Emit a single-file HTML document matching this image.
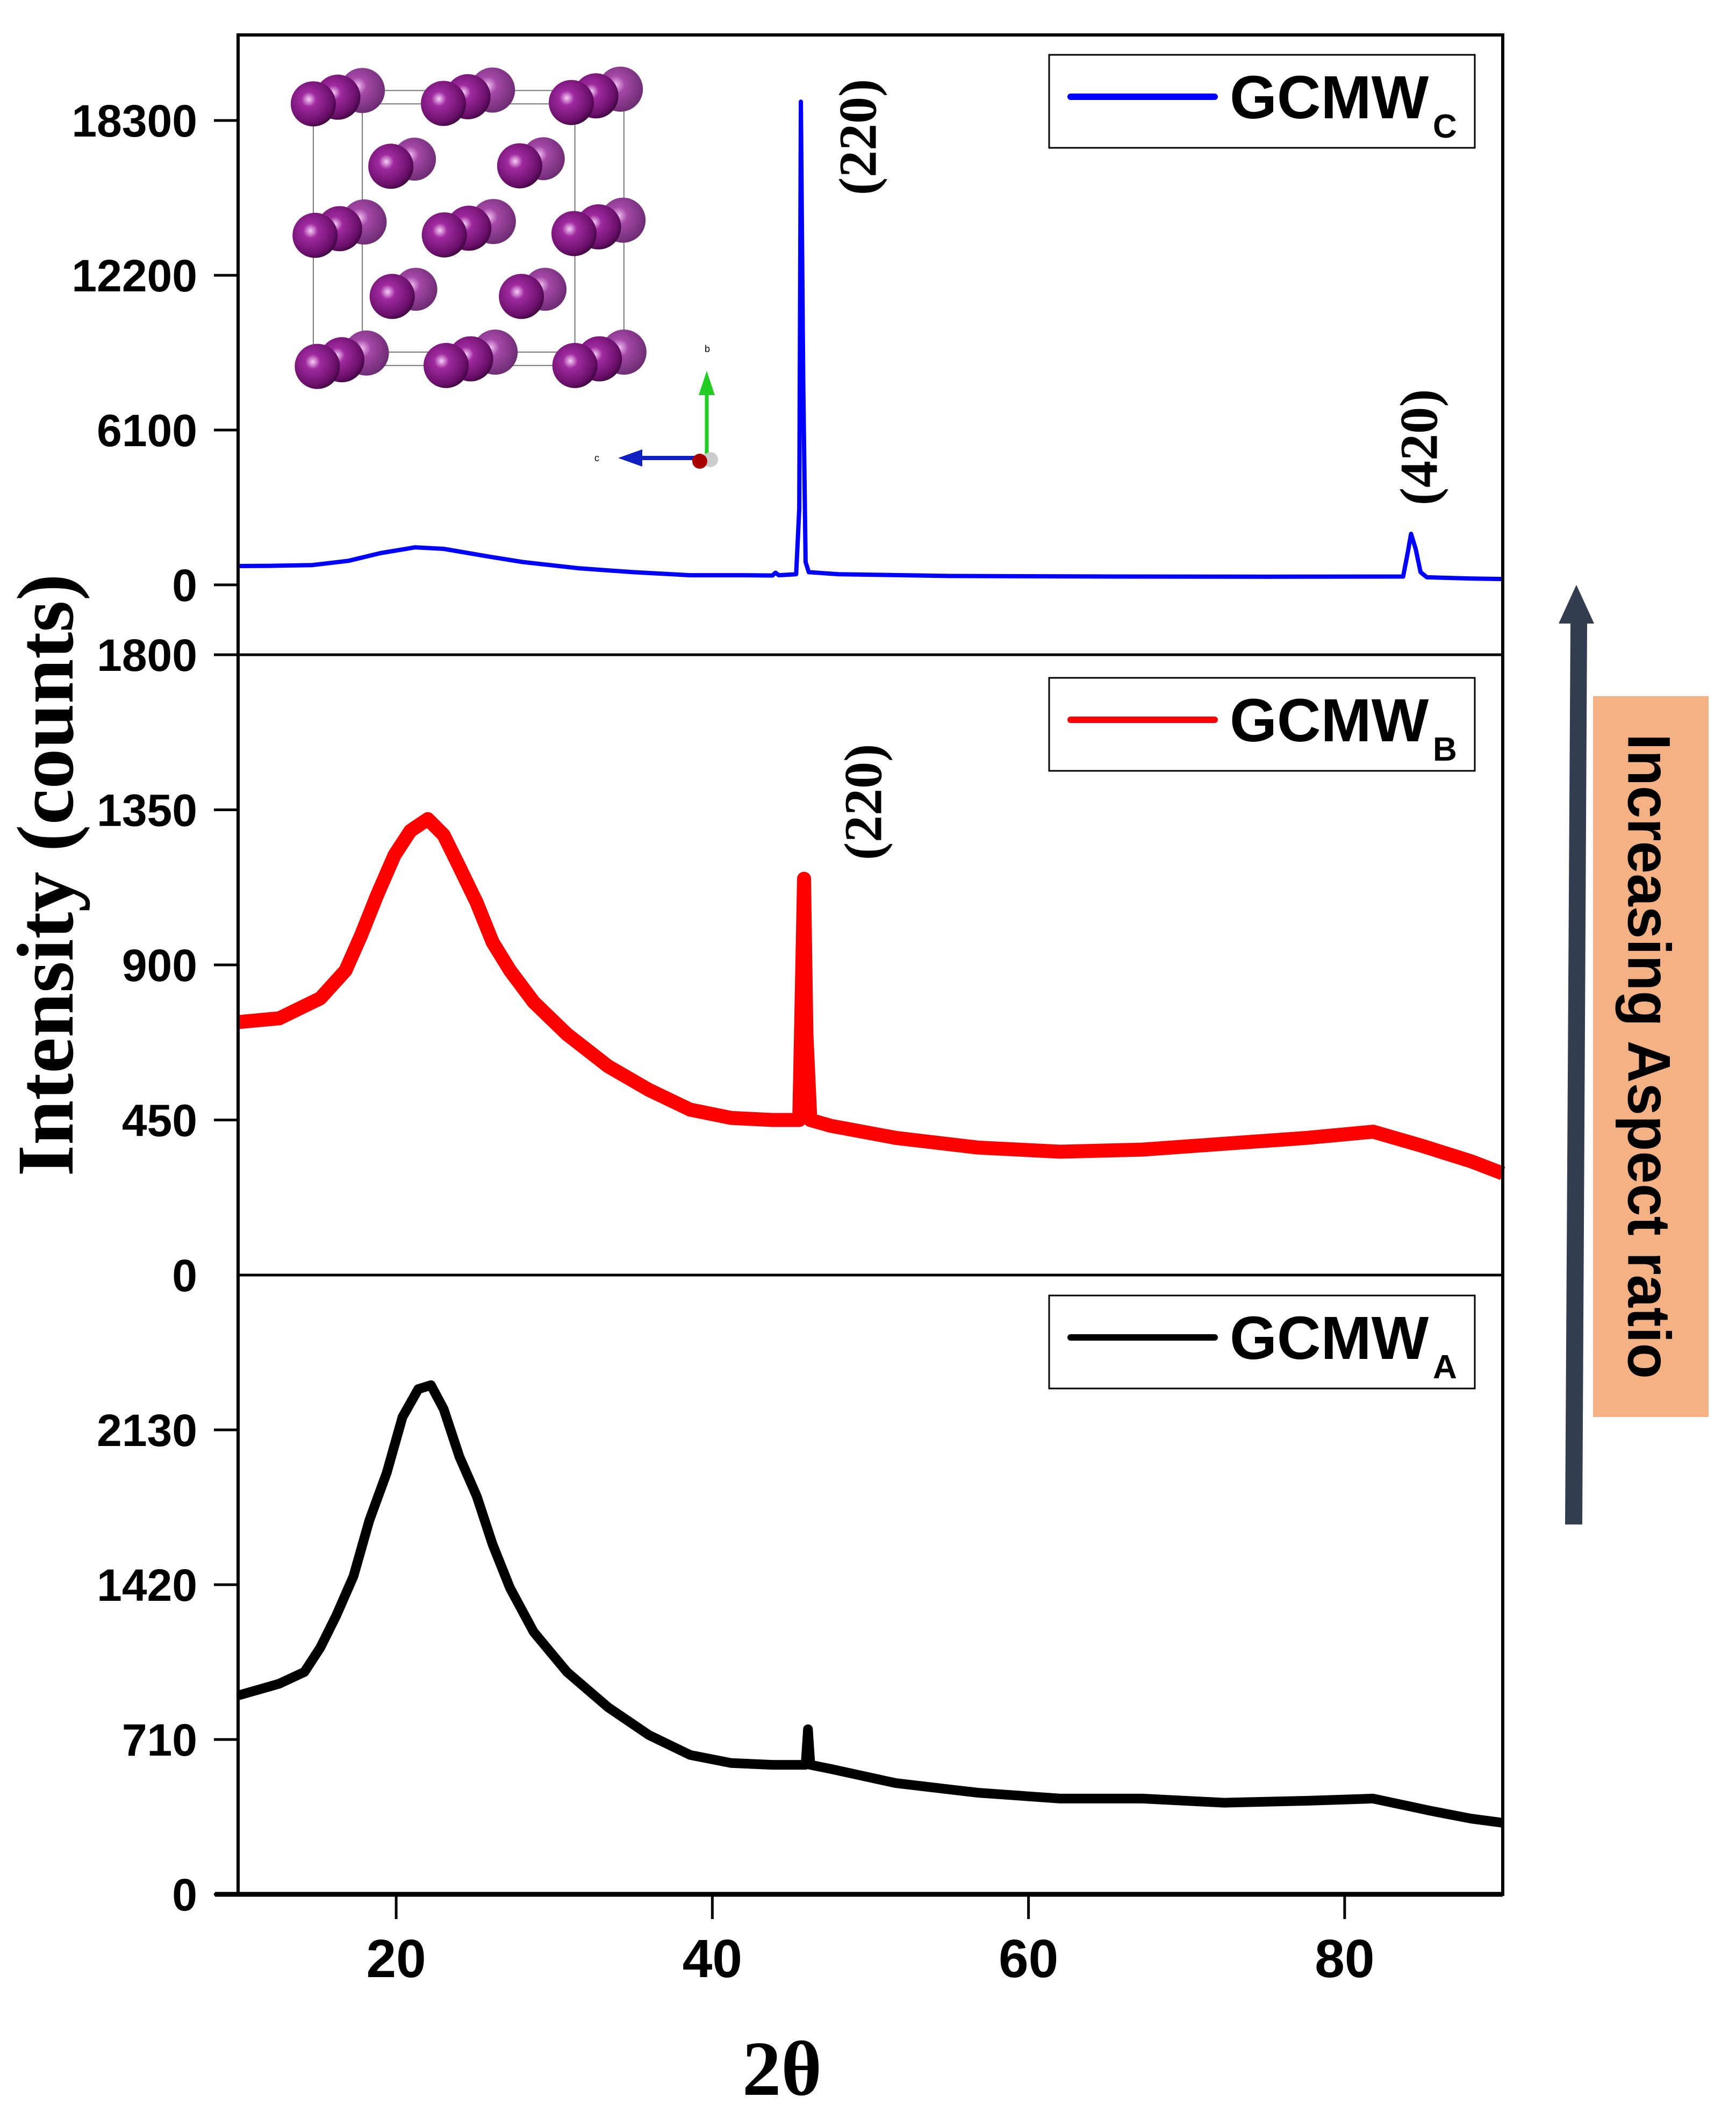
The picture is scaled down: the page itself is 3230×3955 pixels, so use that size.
<!DOCTYPE html>
<html><head><meta charset="utf-8"><style>
html,body{margin:0;padding:0;background:#fff;}
svg{display:block;}
</style></head><body>
<svg id="chart" width="3230" height="3955" viewBox="0 0 3230 3955" xmlns="http://www.w3.org/2000/svg">
<defs>
<radialGradient id="sph" cx="0.4" cy="0.4" r="0.65">
<stop offset="0" stop-color="#f6d0f6"/><stop offset="0.25" stop-color="#a02aa0"/><stop offset="0.8" stop-color="#6a0f6a"/><stop offset="1" stop-color="#3a053a"/>
</radialGradient>
<radialGradient id="sphB" cx="0.4" cy="0.4" r="0.65">
<stop offset="0" stop-color="#f0c0f0"/><stop offset="0.3" stop-color="#a548a8"/><stop offset="1" stop-color="#6a2a70"/>
</radialGradient>
</defs>
<g id="inset"></g>
<g id="plot"></g>
</svg>
<script>
// ---- data ----
const xTicks = [20, 40, 60, 80];
const topTicks = [0, 6100, 12200, 18300];
const midTicks = [450, 900, 1350, 1800];
const botTicks = [0, 710, 1420, 2130];

const xC = [10, 12, 14.7, 17, 19, 21.2, 23, 26, 28, 31.6, 35, 38.6, 42, 43.8, 44, 44.2, 45.3, 45.5, 45.6, 45.75, 45.9, 46.1, 48, 55, 65, 75, 83.7, 84.0, 84.2, 84.5, 84.8, 85.2, 88, 90];
const yC = [741, 750, 780, 950, 1250, 1480, 1420, 1100, 900, 650, 500, 380, 380, 370, 480, 380, 420, 3000, 19040, 8000, 900, 500, 420, 350, 330, 320, 330, 1300, 2010, 1400, 500, 300, 250, 230];

const xB = [10, 12.6, 15.2, 16.8, 17.8, 18.8, 19.9, 20.9, 22.0, 23.0, 24.0, 25.1, 26.1, 27.2, 28.7, 30.8, 33.4, 36, 38.6, 41.2, 43.8, 45.5, 45.8, 45.95, 46.2, 47.5, 51.6, 56.8, 62, 67.2, 72.4, 77.6, 81.8, 84.9, 88, 90];
const yB = [734, 745, 803, 884, 988, 1103, 1219, 1289, 1323, 1277, 1184, 1080, 966, 884, 792, 699, 606, 537, 480, 456, 450, 450, 1150, 700, 450, 433, 398, 370, 358, 364, 381, 398, 416, 375, 330, 295];

const xA = [10, 12.6, 14.2, 15.2, 16.2, 17.3, 18.3, 19.4, 20.4, 21.4, 22.2, 23.0, 24.0, 25.1, 26.1, 27.2, 28.7, 30.8, 33.4, 36, 38.6, 41.2, 43.8, 45.9, 46.05, 46.2, 47.5, 51.6, 56.8, 62, 67.2, 72.4, 77.6, 81.8, 85.5, 88, 90];
const yA = [912, 966, 1020, 1131, 1277, 1459, 1714, 1933, 2189, 2317, 2335, 2226, 2007, 1825, 1605, 1405, 1203, 1020, 858, 730, 639, 602, 594, 594, 757, 594, 575, 510, 466, 439, 439, 420, 429, 439, 382, 347, 328];

// ---- layout ----
const L = 443, R = 2796;
const panels = [
  {top: 65, bot: 1218, min: -2753, max: 21670, ticks: topTicks},
  {top: 1218, bot: 2372, min: 0, max: 1800, ticks: midTicks},
  {top: 2372, bot: 3524, min: 0, max: 2840, ticks: botTicks}
];
const NS = "http://www.w3.org/2000/svg";
const plot = document.getElementById('plot');
function mk(tag, attrs, parent) {
  const e = document.createElementNS(NS, tag);
  for (const k in attrs) e.setAttribute(k, attrs[k]);
  (parent || plot).appendChild(e);
  return e;
}
const xs = v => L + (v - 10) / 80 * (R - L);
function ys(p, v) { return p.bot - (v - p.min) / (p.max - p.min) * (p.bot - p.top); }

function drawSeries(p, X, Y, color, w, name) {
  let d = '';
  for (let i = 0; i < X.length; i++) d += (i ? 'L' : 'M') + xs(X[i]).toFixed(1) + ',' + ys(p, Y[i]).toFixed(1);
  const e = mk('path', {d: d, fill: 'none', stroke: color, 'stroke-width': w, 'stroke-linejoin': 'round'});
  
  
}
drawSeries(panels[0], xC, yC, '#0000ff', 8, 'series-gcmw-c');
drawSeries(panels[1], xB, yB, '#ff0000', 26, 'series-gcmw-b');
drawSeries(panels[2], xA, yA, '#000000', 18, 'series-gcmw-a');

// frame
const frame = mk('rect', {x: L, y: 65, width: R - L, height: 3524 - 65, fill: 'none', stroke: '#000', 'stroke-width': 6});


[1218, 2372].forEach(y => {
  const ln = mk('line', {x1: L, x2: R, y1: y, y2: y, stroke: '#000', 'stroke-width': 5});
  
  
});
const bax = mk('line', {x1: 400, x2: R, y1: 3524, y2: 3524, stroke: '#000', 'stroke-width': 9});



// y ticks
panels.forEach(p => {
  p.ticks.forEach(t => {
    const y = ys(p, t);
    const tk = mk('line', {x1: 398, x2: L, y1: y, y2: y, stroke: '#000', 'stroke-width': 5});
    
    
    const tx = mk('text', {x: 367, y: y + 30, 'text-anchor': 'end', 'font-family': 'Liberation Sans, Arial, sans-serif', 'font-weight': 'bold', 'font-size': 84});
    tx.textContent = t;
    
    
  });
});
const z = mk('text', {x: 367, y: 2372 + 30, 'text-anchor': 'end', 'font-family': 'Liberation Sans, Arial, sans-serif', 'font-weight': 'bold', 'font-size': 84});
z.textContent = '0';



// x ticks
xTicks.forEach(t => {
  const x = xs(t);
  const tk = mk('line', {x1: x, x2: x, y1: 3524, y2: 3570, stroke: '#000', 'stroke-width': 5});
  
  
  const tx = mk('text', {x: x, y: 3678, 'text-anchor': 'middle', 'font-family': 'Liberation Sans, Arial, sans-serif', 'font-weight': 'bold', 'font-size': 100});
  tx.textContent = t;
  
  
});

// axis titles
const xt = mk('text', {x: 1455, y: 3897, 'text-anchor': 'middle', 'font-family': 'Liberation Serif, Times New Roman, serif', 'font-weight': 'bold', 'font-size': 145});
xt.textContent = '2θ';


const yt = mk('text', {x: 0, y: 0, 'text-anchor': 'middle', transform: 'translate(135,1628) rotate(-90)', 'font-family': 'Liberation Serif, Times New Roman, serif', 'font-weight': 'bold', 'font-size': 150});
yt.textContent = 'Intensity (counts)';



// peak labels
function peakLabel(cx, cy, txt) {
  const t = mk('text', {x: 0, y: 0, 'text-anchor': 'middle', 'dominant-baseline': 'central', transform: 'translate(' + cx + ',' + cy + ') rotate(-90)', 'font-family': 'Liberation Serif, Times New Roman, serif', 'font-weight': 'bold', 'font-size': 100});
  t.textContent = txt;
  
  
}
peakLabel(1596, 255, '(220)');
peakLabel(2640, 832, '(420)');
peakLabel(1606, 1492, '(220)');

// legends
function legend(y0, color, sub, name) {
  const g = mk('g', {});
  
  
  mk('rect', {x: 1952, y: y0, width: 792, height: 173, fill: '#fff', stroke: '#000', 'stroke-width': 3}, g);
  mk('line', {x1: 1992, x2: 2260, y1: y0 + 78, y2: y0 + 78, stroke: color, 'stroke-width': 12, 'stroke-linecap': 'round'}, g);
  const t = mk('text', {x: 2288, y: y0 + 118, 'font-family': 'Liberation Sans, Arial, sans-serif', 'font-weight': 'bold', 'font-size': 113}, g);
  t.textContent = 'GCMW';
  const s = mk('text', {x: 2666, y: y0 + 154, 'font-family': 'Liberation Sans, Arial, sans-serif', 'font-weight': 'bold', 'font-size': 62}, g);
  s.textContent = sub;
}
legend(102, '#0000ff', 'C', 'legend-gcmw-c');
legend(1261, '#ff0000', 'B', 'legend-gcmw-b');
legend(2410, '#000000', 'A', 'legend-gcmw-a');

// arrow + annotation
const ar = mk('polygon', {points: '2912,2836 2944,2836 2953,1160 2966,1160 2933,1088 2900,1160 2922,1160', fill: '#323d4f'});


const ob = mk('rect', {x: 2964, y: 1295, width: 215, height: 1341, fill: '#f4b183'});


const at = mk('text', {x: 0, y: 0, 'text-anchor': 'middle', 'dominant-baseline': 'central', transform: 'translate(3068,1965) rotate(90)', 'font-family': 'Liberation Sans, Arial, sans-serif', 'font-weight': 'bold', 'font-size': 112, textLength: 1200, lengthAdjust: 'spacingAndGlyphs'});
at.textContent = 'Increasing Aspect ratio';



// ---- crystal inset (decorative) ----
const inset = document.getElementById('inset');
const k = 1 / 1.206;
const fronts = [[703,233],[995,232],[1282,230],[707,528],[997,527],[1288,524],[712,822],[1001,820],[1290,820]];
const mids = [[877,373],[1166,372],[880,665],[1170,665]];
const fx0 = 703*k, fy0 = 233*k, fx1 = 1290*k, fy1 = 820*k, ox = 110*k, oy = -30*k;
[[fx0,fy0,fx1,fy0],[fx1,fy0,fx1,fy1],[fx1,fy1,fx0,fy1],[fx0,fy1,fx0,fy0],
 [fx0+ox,fy0+oy,fx1+ox,fy0+oy],[fx1+ox,fy0+oy,fx1+ox,fy1+oy],[fx1+ox,fy1+oy,fx0+ox,fy1+oy],[fx0+ox,fy1+oy,fx0+ox,fy0+oy]]
 .forEach(s => mk('line', {x1: s[0], y1: s[1], x2: s[2], y2: s[3], stroke: '#777', 'stroke-width': 2}, inset));
fronts.forEach(f => {
  mk('circle', {cx: (f[0]+110)*k, cy: (f[1]-30)*k, r: 42, fill: 'url(#sphB)'}, inset);
  mk('circle', {cx: (f[0]+55)*k, cy: (f[1]-15)*k, r: 42, fill: 'url(#sph)'}, inset);
  mk('circle', {cx: f[0]*k, cy: f[1]*k, r: 42, fill: 'url(#sph)'}, inset);
});
mids.forEach(f => {
  mk('circle', {cx: (f[0]+53)*k, cy: (f[1]-16)*k, r: 40, fill: 'url(#sphB)'}, inset);
  mk('circle', {cx: f[0]*k, cy: f[1]*k, r: 42, fill: 'url(#sph)'}, inset);
});
mk('line', {x1: 1315, y1: 852, x2: 1315, y2: 730, stroke: '#22cc22', 'stroke-width': 7}, inset);
mk('polygon', {points: '1300,735 1330,735 1315,690', fill: '#22cc22'}, inset);
mk('line', {x1: 1305, y1: 852, x2: 1190, y2: 852, stroke: '#1020c0', 'stroke-width': 8}, inset);
mk('polygon', {points: '1195,836 1195,868 1150,852', fill: '#1020c0'}, inset);
mk('circle', {cx: 1322, cy: 855, r: 14, fill: '#cccccc'}, inset);
mk('circle', {cx: 1302, cy: 858, r: 14, fill: '#aa0000'}, inset);
const lb = mk('text', {x: 1311, y: 655, 'font-family': 'Liberation Sans, sans-serif', 'font-size': 18}, inset);
lb.textContent = 'b';
const lc = mk('text', {x: 1106, y: 858, 'font-family': 'Liberation Sans, sans-serif', 'font-size': 18}, inset);
lc.textContent = 'c';
</script>
</body></html>
